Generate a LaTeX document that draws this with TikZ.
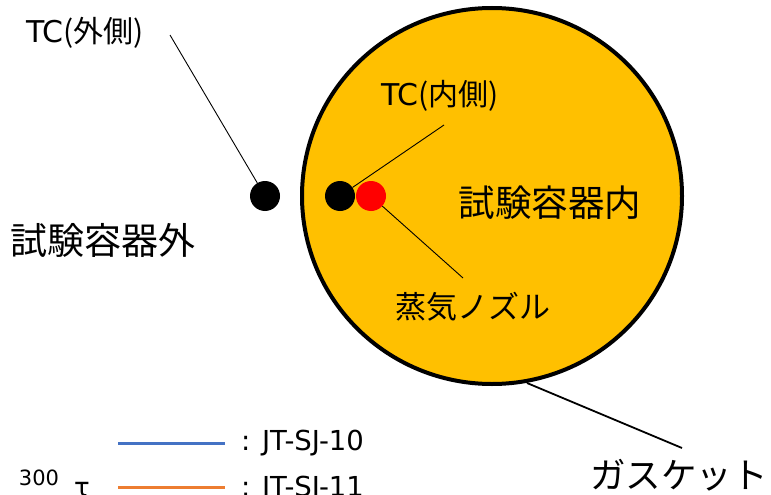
\documentclass[tikz,border=0pt]{standalone}
\usepackage{fontspec}
\usetikzlibrary{shapes.geometric}
\setmainfont{DejaVu Sans}
\newfontfamily\jp{Noto Sans CJK JP}
\definecolor{vesselfill}{HTML}{FFC000}
\definecolor{legblue}{HTML}{4472C4}
\definecolor{legorange}{HTML}{ED7D31}
\tikzset{
  lbl/.style={inner sep=0pt, text=black},
  dotbox/.style={circle, fill=#1, draw=none, minimum size=30pt, inner sep=0pt},
  thin lead/.style={draw=black, line width=0.9pt},
  thick lead/.style={draw=black, line width=1.8pt},
  legline/.style={line width=3pt, draw=#1},
}
\newcommand{\tclabel}[1]{\fontsize{30}{30}\selectfont TC{\jp (#1)}}
\begin{document}
\begin{tikzpicture}[x=1pt,y=-1pt]
\useasboundingbox (0,0) rectangle (771,495);
% vessel
\node[ellipse, draw=black, line width=4pt, fill=vesselfill, minimum width=380pt, minimum height=376pt, inner sep=0pt] (vessel) at (492,196) {};
% dots
\node[dotbox=black] (dotOut) at (265,196) {};
\node[dotbox=black] (dotIn) at (340,196) {};
\node[dotbox=red] (nozzle) at (371,196) {};
% labels
\node[lbl] (tcOut) at (85,33) {\tclabel{外側}};
\node[lbl] (tcIn) at (440,96) {\tclabel{内側}};
\node[lbl] (inside) at (550,203) {\jp\fontsize{36.5}{36.5}\selectfont 試験容器内};
\node[lbl] (outside) at (103,240) {\jp\fontsize{37}{37}\selectfont 試験容器外};
\node[lbl] (nozLbl) at (473,307) {\jp\fontsize{31}{31}\selectfont 蒸気ノズル};
\node[lbl] (gasLbl) at (679,475) {\jp\fontsize{35.5}{35.5}\selectfont ガスケット};
% leader ends
\coordinate (tcOutEnd) at (170,35);
\coordinate (tcInEnd) at (444,125);
\coordinate (nozEnd) at (463,278);
\coordinate (gasEnd) at (682,448);
\coordinate (gasPt) at (527,383);
\draw[thin lead] (tcOutEnd) -- (dotOut);
\draw[thin lead] (tcInEnd) -- (dotIn);
\draw[thin lead] (nozEnd) -- (nozzle);
\draw[thick lead] (gasEnd) -- (gasPt);
% legend
\coordinate (lb1) at (118,443); \coordinate (lb2) at (225,443);
\coordinate (lo1) at (118,487); \coordinate (lo2) at (225,487);
\draw[legline=legblue] (lb1) -- (lb2);
\draw[legline=legorange] (lo1) -- (lo2);
\node[lbl, anchor=west] (leg1) at (241,443) {\fontsize{27.5}{27.5}\selectfont : JT-SJ-10};
\node[lbl, anchor=west] (leg2) at (241,489) {\fontsize{27.5}{27.5}\selectfont : JT-SJ-11};
\node[lbl] (ax300) at (39,478) {\fontsize{21}{21}\selectfont 300};
\node[lbl, anchor=north] (axunit) at (82,482) {\fontsize{26}{26}\selectfont τ};
\end{tikzpicture}
\end{document}
